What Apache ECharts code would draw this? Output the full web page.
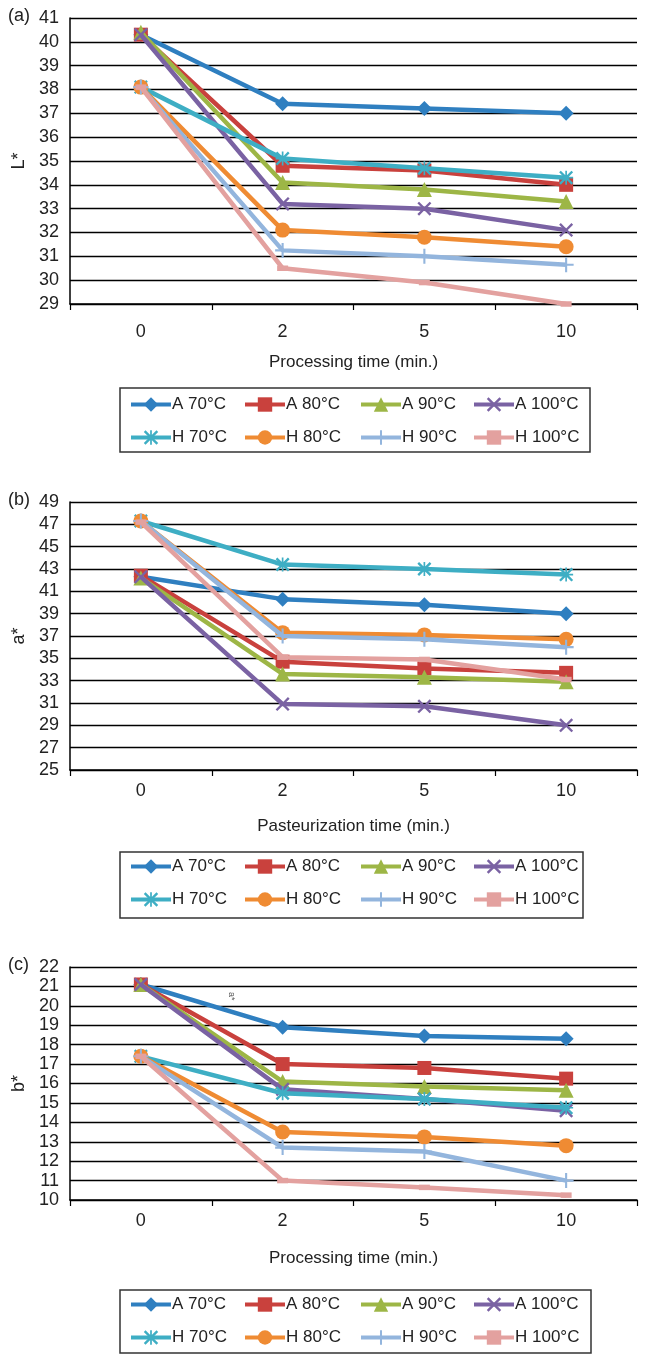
<!DOCTYPE html>
<html><head><meta charset="utf-8">
<script src="https://cdn.jsdelivr.net/npm/echarts@6/dist/echarts.min.js"></script>
<style>html,body{margin:0;padding:0;background:#fff}#c{width:645px;height:1354px}</style>
</head><body><div id="c"></div>
<script>
// ---- data ----
const categories = ['0', '2', '5', '10'];
const seriesNames = ['A 70°C', 'A 80°C', 'A 90°C', 'A 100°C', 'H 70°C', 'H 80°C', 'H 90°C', 'H 100°C'];
const yTicksL = [29, 41, 1];
const yTicksA = [25, 49, 2];
const yTicksB = [10, 22, 1];
// (a) L*
const L_A70 = [40.3, 37.4, 37.2, 37.0];
const L_A80 = [40.3, 34.8, 34.6, 34.0];
const L_A90 = [40.4, 34.1, 33.8, 33.3];
const L_A100 = [40.3, 33.2, 33.0, 32.1];
const L_H70 = [38.1, 35.1, 34.7, 34.3];
const L_H80 = [38.1, 32.1, 31.8, 31.4];
const L_H90 = [38.1, 31.25, 31.0, 30.65];
const L_H100 = [38.1, 30.5, 29.9, 29.0];
// (b) a*
const a_A70 = [42.3, 40.3, 39.8, 39.0];
const a_A80 = [42.4, 34.7, 34.1, 33.7];
const a_A90 = [42.2, 33.6, 33.3, 32.9];
const a_A100 = [42.3, 30.9, 30.7, 29.0];
const a_H70 = [47.3, 43.4, 43.0, 42.5];
const a_H80 = [47.3, 37.3, 37.1, 36.7];
const a_H90 = [47.3, 37.0, 36.7, 36.0];
const a_H100 = [47.2, 35.1, 34.9, 33.1];
// (c) b*
const b_A70 = [21.1, 18.9, 18.45, 18.3];
const b_A80 = [21.1, 17.0, 16.8, 16.25];
const b_A90 = [21.1, 16.1, 15.85, 15.65];
const b_A100 = [21.1, 15.7, 15.2, 14.6];
const b_H70 = [17.4, 15.5, 15.2, 14.75];
const b_H80 = [17.4, 13.5, 13.25, 12.8];
const b_H90 = [17.4, 12.7, 12.5, 11.0];
const b_H100 = [17.4, 11.0, 10.65, 10.25];

const panelData = [
  [L_A70, L_A80, L_A90, L_A100, L_H70, L_H80, L_H90, L_H100],
  [a_A70, a_A80, a_A90, a_A100, a_H70, a_H80, a_H90, a_H100],
  [b_A70, b_A80, b_A90, b_A100, b_H70, b_H80, b_H90, b_H100]
];
const panelTicks = [yTicksL, yTicksA, yTicksB];
const panelYNames = ['L*', 'a*', 'b*'];
const panelXNames = ['Processing time (min.)', 'Pasteurization time (min.)', 'Processing time (min.)'];
const panelTags = ['(a)', '(b)', '(c)'];

// ---- style ----
const FONT = "'Liberation Sans Narrow', 'Liberation Sans', Arial, sans-serif";
const colors = ['#2f7fc0', '#c9413d', '#9db646', '#7a62a3', '#3eaec4', '#ef8b33', '#93b5dd', '#e3a19f'];
const X_PATH = 'path://M1.2,0 L5,3.8 L8.8,0 L10,1.2 L6.2,5 L10,8.8 L8.8,10 L5,6.2 L1.2,10 L0,8.8 L3.8,5 L0,1.2 Z';
const PLUS_PATH = 'path://M4.3,0 L5.7,0 L5.7,4.3 L10,4.3 L10,5.7 L5.7,5.7 L5.7,10 L4.3,10 L4.3,5.7 L0,5.7 L0,4.3 L4.3,4.3 Z';
const STAR_PATH = 'path://M1.2,0 L5,3.8 L8.8,0 L10,1.2 L6.2,5 L10,8.8 L8.8,10 L5,6.2 L1.2,10 L0,8.8 L3.8,5 L0,1.2 Z M4.4,0 L5.6,0 L5.6,10 L4.4,10 Z M0,4.4 L10,4.4 L10,5.6 L0,5.6 Z';
const DASH_PATH = 'path://M0,0 L10,0 L10,5 L0,5 Z';
const symbols = ['diamond', 'rect', 'triangle', X_PATH, STAR_PATH, 'circle', PLUS_PATH, DASH_PATH];
const symbolSizes = [15, 14, 15, 14, 14, 15, 15, 11];

const layout = [
  { top: 18, height: 286, box: [120, 388, 470, 64], legTop: 396, xMargin: 19, nameGap: 50 },
  { top: 502, height: 268, box: [120, 852, 463, 66], legTop: 858, xMargin: 12, nameGap: 48 },
  { top: 967, height: 233, box: [120, 1290, 471, 63], legTop: 1296, xMargin: 12, nameGap: 50 }
];
const colLefts = [129, 243, 359, 472];

const grid = [], xAxis = [], yAxis = [], series = [], legend = [], graphic = [];
layout.forEach((L, p) => {
  grid.push({ left: 70, right: 8, top: L.top, height: L.height });
  xAxis.push({
    type: 'category', gridIndex: p, data: categories, boundaryGap: true,
    name: panelXNames[p], nameLocation: 'middle', nameGap: L.nameGap,
    nameTextStyle: { fontFamily: FONT, fontSize: 17, color: '#222' },
    axisLine: { lineStyle: { color: '#000', width: 1.5 } },
    axisTick: { show: true, length: 6, inside: false, lineStyle: { color: '#000', width: 1.2 } },
    axisLabel: { fontFamily: FONT, fontSize: 18, color: '#222', margin: L.xMargin },
    splitLine: { show: false }
  });
  const t = panelTicks[p];
  yAxis.push({
    type: 'value', gridIndex: p, min: t[0], max: t[1], interval: t[2],
    name: panelYNames[p], nameLocation: 'middle', nameGap: 37, nameRotate: 90,
    nameTextStyle: { fontFamily: FONT, fontSize: 18, color: '#222' },
    axisLine: { show: true, lineStyle: { color: '#000', width: 1.5 } },
    axisTick: { show: false },
    axisLabel: { fontFamily: FONT, fontSize: 18, color: '#222', margin: 11 },
    splitLine: { show: true, lineStyle: { color: '#000', width: 1.3 } }
  });
  panelData[p].forEach((d, i) => {
    series.push({
      type: 'line', name: seriesNames[i], xAxisIndex: p, yAxisIndex: p, data: d,
      color: colors[i], symbol: symbols[i], symbolSize: symbolSizes[i], symbolKeepAspect: true,
      showAllSymbol: true, lineStyle: { width: 4.5, color: colors[i] },
      itemStyle: { color: colors[i] }, animation: false, z: 2 + i * 0.01
    });
  });
  colLefts.forEach((x, c) => {
    legend.push({
      orient: 'vertical', left: x, top: L.legTop, padding: 0, itemGap: 16, itemWidth: 40, itemHeight: 18,
      data: [seriesNames[c], seriesNames[c + 4]], selectedMode: false,
      lineStyle: { width: 4 },
      textStyle: { fontFamily: FONT, fontSize: 17, color: '#222', padding: [0, 0, 0, -4] }
    });
  });
  graphic.push({
    type: 'rect', shape: { x: L.box[0], y: L.box[1], width: L.box[2], height: L.box[3] },
    style: { fill: 'none', stroke: '#333', lineWidth: 1.5 }, z: 0
  });
  graphic.push({
    type: 'text', left: 8, top: L.top - 11,
    style: { text: panelTags[p], font: '18px ' + FONT, fill: '#222' }
  });
});
graphic.push({
  type: 'text', x: 236, y: 992, rotation: -Math.PI / 2,
  style: { text: 'a*', font: '9px ' + FONT, fill: '#555' }
});

const chart = echarts.init(document.getElementById('c'), null, { renderer: 'canvas' });
chart.setOption({
  animation: false, backgroundColor: '#fff',
  grid, xAxis, yAxis, series, legend, graphic
});
</script></body></html>
